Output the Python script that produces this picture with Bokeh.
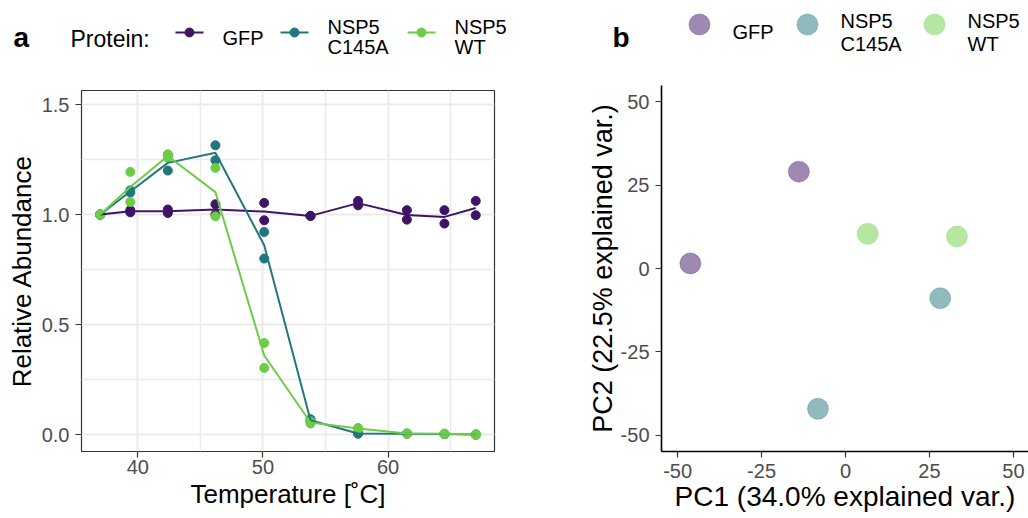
import numpy as np
from bokeh.plotting import figure
from bokeh.layouts import row, column
from bokeh.models import Range1d, FixedTicker, NumeralTickFormatter
from bokeh.core.properties import value
from bokeh.embed import file_html
from bokeh.resources import INLINE

FONT = "Liberation Sans"

# ---------------- data ----------------
proteins = ["GFP", "NSP5\nC145A", "NSP5\nWT"]
colors = ["#3E1466", "#22767E", "#6CCD45"]

temps = [37.0, 39.4, 42.4, 46.2, 50.1, 53.8, 57.6, 61.5, 64.5, 67.0]

gfp_rep1 = [1.00, 1.02, 1.023, 1.047, 1.053, 0.994, 1.062, 1.020, 1.020, 1.062]
gfp_rep2 = [1.00, 1.01, 1.007, 1.000, 0.974, 0.994, 1.042, 0.977, 0.959, 0.997]

c145a_rep1 = [1.00, 1.11, 1.20, 1.315, 0.921, 0.070, 0.005, 0.004, 0.003, 0.000]
c145a_rep2 = [1.00, 1.10, 1.27, 1.247, 0.800, 0.060, 0.004, 0.004, 0.002, 0.000]

wt_rep1 = [1.00, 1.194, 1.274, 1.212, 0.416, 0.060, 0.030, 0.005, 0.004, 0.000]
wt_rep2 = [1.00, 1.057, 1.259, 0.992, 0.303, 0.050, 0.025, 0.004, 0.003, 0.000]

pca_group = ["GFP", "GFP", "NSP5\nC145A", "NSP5\nC145A", "NSP5\nWT", "NSP5\nWT"]
pc1 = [-46.2, -13.9, -8.2, 28.2, 6.6, 33.2]
pc2 = [1.5, 29.0, -42.0, -8.9, 10.4, 9.6]

pc_ticks = [-50, -25, 0, 25, 50]
pc_tick_labels = ["-50", "-25", "0", "25", "50"]

series = [(gfp_rep1, gfp_rep2), (c145a_rep1, c145a_rep2), (wt_rep1, wt_rep2)]

TICK_GREY = "#4D4D4D"


def header(width, height):
    h = figure(width=width, height=height, output_backend="svg", toolbar_location=None,
               x_range=Range1d(0, width), y_range=Range1d(height, 0),
               x_axis_location=None, y_axis_location=None, min_border=0,
               frame_align=False)
    h.outline_line_color = None
    h.grid.visible = False
    return h


def add_text(p, xs, ys, texts, size, style="normal", color="black"):
    p.text(x=xs, y=ys, text=texts, text_font=value(FONT), text_font_size=size,
           text_font_style=style, text_color=color, text_align="left",
           text_baseline="alphabetic")


WA, WB = 560, 468
HA, HP = 68, 450

# ---------------- panel a ----------------
ha = header(WA, HA)
add_text(ha, [13], [37], ["a"], "28px", "bold")
add_text(ha, [70], [38], ["Protein:"], "23px")
leg_a_x = [189, 294, 421]
ha.segment(x0=[x - 14 for x in leg_a_x], x1=[x + 14 for x in leg_a_x], y0=[32] * 3, y1=[32] * 3,
           line_color=colors, line_width=2)
ha.scatter(x=leg_a_x, y=[32] * 3, size=9, fill_color=colors, line_color=colors)
for i, name in enumerate(proteins):
    lines = name.split("\n")
    tx = leg_a_x[i] + 33
    if len(lines) == 1:
        add_text(ha, [tx], [37.7], lines, "20px")
    else:
        add_text(ha, [tx, tx], [26.7, 46.5], lines, "20px")

pa = figure(width=WA, height=HP, output_backend="svg", toolbar_location=None,
            x_range=Range1d(35.5, 68.5), y_range=Range1d(-0.077, 1.564),
            min_border_left=81, min_border_right=66, min_border_top=22, min_border_bottom=67,
            frame_align=False)
pa.outline_line_color = "#333333"
pa.outline_line_width = 1.2
pa.xaxis.ticker = FixedTicker(ticks=[40, 50, 60], minor_ticks=[45, 55, 65])
pa.yaxis.ticker = FixedTicker(ticks=[0, 0.5, 1.0, 1.5], minor_ticks=[0.25, 0.75, 1.25])
pa.yaxis.formatter = NumeralTickFormatter(format="0.0")
for g in [pa.xgrid[0], pa.ygrid[0]]:
    g.grid_line_color = "#EBEBEB"
    g.grid_line_width = 2
    g.minor_grid_line_color = "#EBEBEB"
    g.minor_grid_line_width = 1.5
for ax in [pa.xaxis[0], pa.yaxis[0]]:
    ax.axis_line_color = None
    ax.major_tick_line_color = "#333333"
    ax.major_tick_line_width = 1.2
    ax.major_tick_out = 6
    ax.major_tick_in = 0
    ax.minor_tick_line_color = None
    ax.major_label_text_font = FONT
    ax.major_label_text_font_size = "20px"
    ax.major_label_text_color = TICK_GREY
    ax.axis_label_text_font = FONT
    ax.axis_label_text_font_size = "26px"
    ax.axis_label_text_font_style = "normal"
    ax.axis_label_text_color = "black"
pa.xaxis.axis_label = "Temperature [˚C]"
pa.yaxis.axis_label = "Relative Abundance"
pa.xaxis.major_label_standoff = 2
pa.xaxis.axis_label_standoff = 2
pa.yaxis.major_label_standoff = 6
pa.yaxis.axis_label_standoff = 2

for (r1, r2), c in zip(series, colors):
    pa.scatter(temps + temps, r1 + r2, size=9, fill_color=c, line_color=c)
for (r1, r2), c in zip(series, colors):
    mean = list(np.mean([r1, r2], axis=0))
    pa.line(temps, mean, line_color=c, line_width=2)

# ---------------- panel b ----------------
hb = header(WB, HA)
add_text(hb, [52], [37], ["b"], "28px", "bold")
leg_b_x = [139, 247, 374]
hb.scatter(x=leg_b_x, y=[24] * 3, size=21, fill_color=colors, fill_alpha=0.5,
           line_color=colors, line_alpha=0.3)
for i, name in enumerate(proteins):
    lines = name.split("\n")
    tx = leg_b_x[i] + 33
    if len(lines) == 1:
        add_text(hb, [tx], [31.7], lines, "20px")
    else:
        add_text(hb, [tx, tx], [20, 43.3], lines, "20px")

pb = figure(width=WB, height=HP, output_backend="svg", toolbar_location=None,
            x_range=Range1d(-54.8, 54.5), y_range=Range1d(-54.8, 54.8),
            min_border_left=101, min_border_right=0, min_border_top=17, min_border_bottom=67,
            frame_align=False)
pb.outline_line_color = None
pb.grid.visible = False
pb.xaxis.ticker = FixedTicker(ticks=pc_ticks)
pb.yaxis.ticker = FixedTicker(ticks=pc_ticks)
overrides = {t: lab for t, lab in zip(pc_ticks, pc_tick_labels)}
for ax in [pb.xaxis[0], pb.yaxis[0]]:
    ax.major_label_overrides = overrides
    ax.axis_line_color = "black"
    ax.axis_line_width = 1.6
    ax.major_tick_line_color = "#333333"
    ax.major_tick_line_width = 1.2
    ax.major_tick_out = 6
    ax.major_tick_in = 0
    ax.minor_tick_line_color = None
    ax.major_label_text_font = FONT
    ax.major_label_text_font_size = "20px"
    ax.major_label_text_color = TICK_GREY
    ax.axis_label_text_font = FONT
    ax.axis_label_text_font_size = "27px"
    ax.axis_label_text_font_style = "normal"
    ax.axis_label_text_color = "black"
pb.xaxis.axis_label = "PC1 (34.0% explained var.)"
pb.yaxis.axis_label = "PC2 (22.5% explained var.)"
pb.xaxis.axis_label_text_font_size = "28px"
pb.xaxis.major_label_standoff = 6
pb.xaxis.axis_label_standoff = 0
pb.yaxis.major_label_standoff = 6
pb.yaxis.axis_label_standoff = 0

for name, c in zip(proteins, colors):
    xs = [x for x, g in zip(pc1, pca_group) if g == name]
    ys = [y for y, g in zip(pc2, pca_group) if g == name]
    pb.scatter(xs, ys, size=21, fill_color=c, fill_alpha=0.5, line_color=c, line_alpha=0.3)

layout = row(column(ha, pa), column(hb, pb))
open("out.html", "w").write(file_html(layout, INLINE))
